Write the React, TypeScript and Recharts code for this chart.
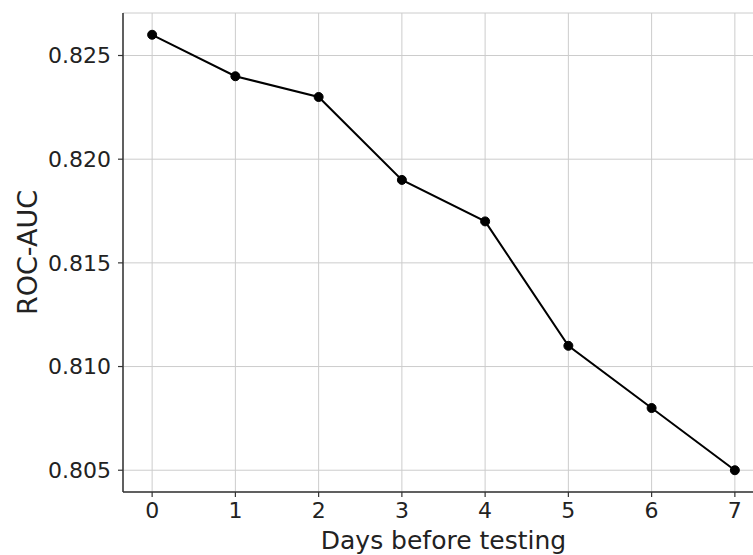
import React from 'react';
import { LineChart, Line, XAxis, YAxis, CartesianGrid } from 'recharts';

const days = [0, 1, 2, 3, 4, 5, 6, 7];
const rocAuc = [0.826, 0.824, 0.823, 0.819, 0.817, 0.811, 0.808, 0.805];
const yTicks = [0.805, 0.81, 0.815, 0.82, 0.825];

const data = days.map((d, i) => ({ day: d, auc: rocAuc[i] }));

const FONT = 'DejaVu Sans, sans-serif';

export default function App() {
  return (
    <div style={{ position: 'absolute', left: 0, top: 0, width: 753, height: 555, overflow: 'hidden', background: '#fff' }}>
      <LineChart
        width={780}
        height={555}
        data={data}
        margin={{ top: 13, right: 16, left: 0, bottom: 0 }}
      >
        <CartesianGrid stroke="#cccccc" strokeWidth={1} />
        <XAxis
          dataKey="day"
          type="number"
          domain={[-0.35, 7.35]}
          ticks={days}
          height={63}
          tickSize={5}
          tickMargin={5}
          axisLine={{ stroke: '#333', strokeWidth: 1.5 }}
          tickLine={{ stroke: '#333', strokeWidth: 1.2 }}
          tick={{ fill: '#222', fontSize: 22, fontFamily: FONT }}
          label={{
            content: ({ viewBox }: any) => (
              <text
                x={viewBox.x + viewBox.width / 2}
                y={549}
                textAnchor="middle"
                fill="#222"
                fontSize={25}
                fontFamily={FONT}
              >
                Days before testing
              </text>
            ),
          }}
        />
        <XAxis
          xAxisId="top"
          orientation="top"
          type="number"
          dataKey="day"
          domain={[-0.35, 7.35]}
          height={0}
          tick={false}
          tickLine={false}
          axisLine={{ stroke: '#333', strokeWidth: 1.5 }}
        />
        <YAxis
          type="number"
          domain={[0.80395, 0.82705]}
          ticks={yTicks}
          width={123}
          tickSize={5}
          tickMargin={7}
          tickFormatter={(v: number) => v.toFixed(3)}
          axisLine={{ stroke: '#333', strokeWidth: 1.5 }}
          tickLine={{ stroke: '#333', strokeWidth: 1.2 }}
          tick={{ fill: '#222', fontSize: 22, fontFamily: FONT }}
          label={{
            content: ({ viewBox }: any) => {
              const cy = viewBox.y + viewBox.height / 2;
              return (
                <text
                  x={37}
                  y={cy}
                  transform={`rotate(-90 37 ${cy})`}
                  textAnchor="middle"
                  fill="#222"
                  fontSize={27}
                  fontFamily={FONT}
                >
                  ROC-AUC
                </text>
              );
            },
          }}
        />
        <Line
          type="linear"
          dataKey="auc"
          stroke="#000"
          strokeWidth={2}
          dot={{ r: 4.5, fill: '#000', stroke: '#000', strokeWidth: 1 }}
          activeDot={false}
          isAnimationActive={false}
        />
      </LineChart>
    </div>
  );
}
